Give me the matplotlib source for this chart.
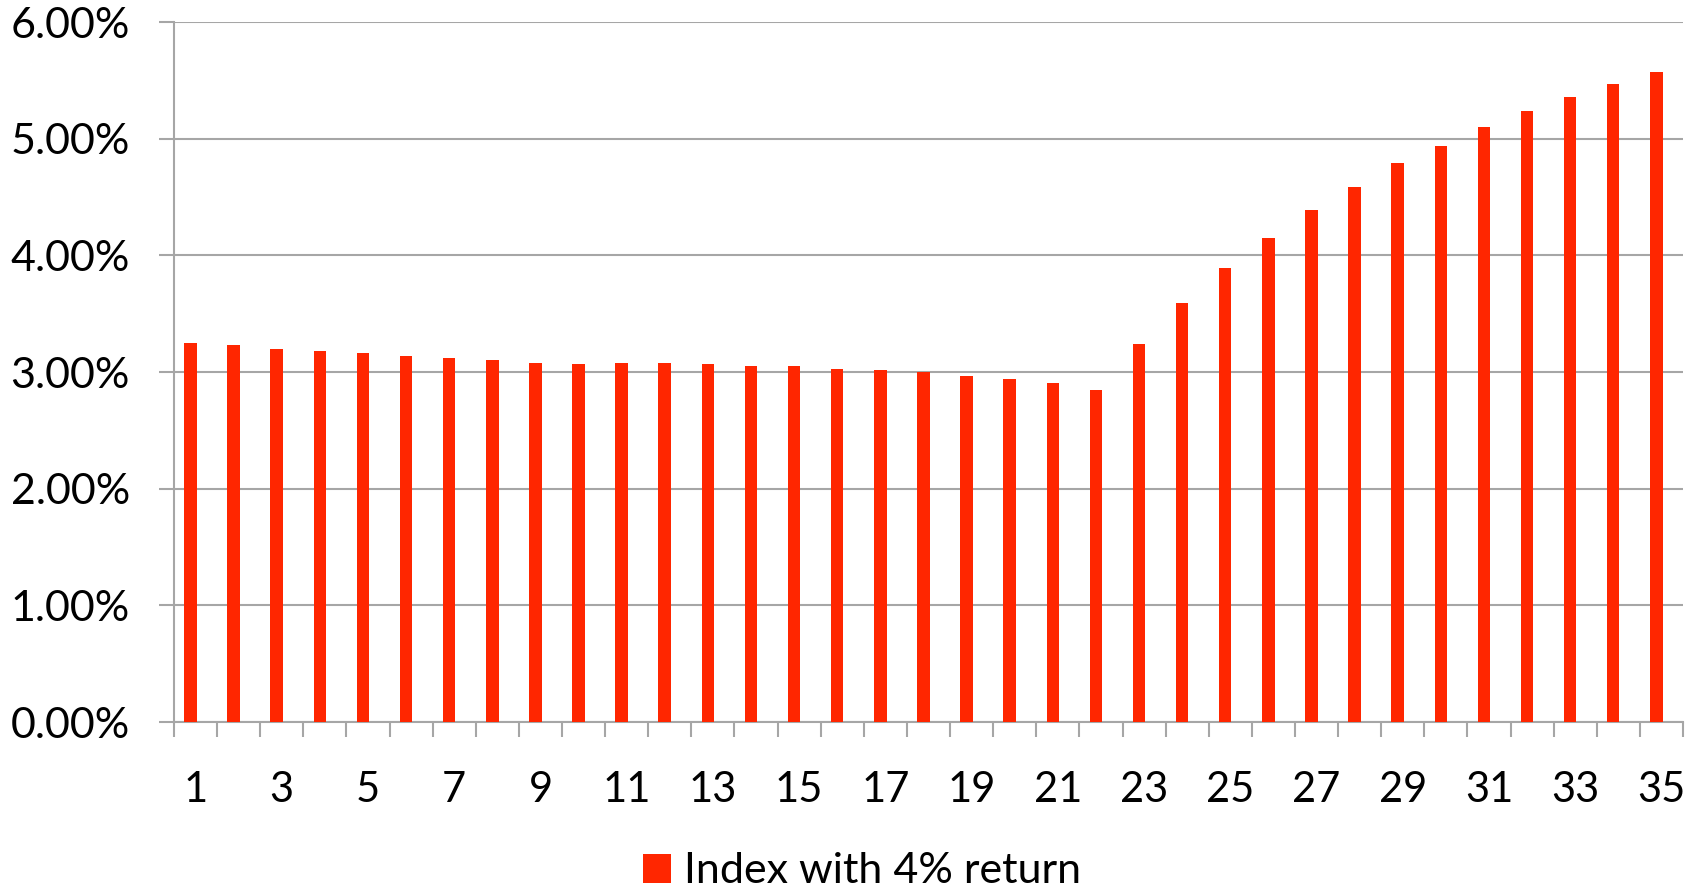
import matplotlib
matplotlib.use('Agg')
import matplotlib.pyplot as plt
from matplotlib.ticker import FixedLocator, FuncFormatter, NullFormatter
import numpy as np

periods = list(range(1, 36))
returns = [3.25, 3.23, 3.20, 3.18, 3.16, 3.14, 3.12, 3.10, 3.08, 3.07,
           3.08, 3.08, 3.07, 3.055, 3.05, 3.03, 3.02, 3.00, 2.97, 2.94,
           2.91, 2.85, 3.24, 3.59, 3.89, 4.15, 4.39, 4.59, 4.79, 4.94,
           5.10, 5.24, 5.36, 5.47, 5.57]
yticks = [0, 1, 2, 3, 4, 5, 6]
series_name = 'Index with 4% return'

plt.rcParams['font.family'] = ['Lato', 'DejaVu Sans']
gray = '#A6A6A6'

fig = plt.figure(figsize=(17, 8.91), dpi=100)
ax = fig.add_axes([174/1700, 1-722/891, (1683-174)/1700, 700/891])
x = np.arange(len(periods))
ax.bar(x - 0.118, returns, width=0.29, color='#FF2600', zorder=3, label=series_name)
ax.set_xlim(-0.5, len(periods) - 0.5)
ax.set_ylim(0, 6)

ax.set_yticks(yticks)
ax.yaxis.set_major_formatter(FuncFormatter(lambda v, p: f'{v:.2f}%'))
ax.grid(axis='y', color=gray, lw=1.5, zorder=0)
ax.set_axisbelow(True)

for s in ['top', 'right']:
    ax.spines[s].set_visible(False)
for s in ['left', 'bottom']:
    ax.spines[s].set_color(gray)
    ax.spines[s].set_linewidth(1.5)

ax.xaxis.set_major_locator(FixedLocator(np.arange(-0.5, len(periods), 1)))
ax.xaxis.set_major_formatter(NullFormatter())
ax.xaxis.set_minor_locator(FixedLocator(x[::2]))
ax.set_xticklabels([str(p) for p in periods[::2]], minor=True)
ax.tick_params(axis='x', which='major', length=10.8, width=1.5, color=gray, direction='out')
ax.tick_params(axis='x', which='minor', length=0, pad=35, labelsize=30)
ax.tick_params(axis='y', length=10.8, width=1.5, color=gray, direction='out', pad=21, labelsize=31)

fig.legend(loc='center', bbox_to_anchor=(0.507, 0.022), frameon=False,
           fontsize=31, handlelength=0.65, handleheight=0.65, handletextpad=0.3)

fig.savefig('out.png', dpi=100)
